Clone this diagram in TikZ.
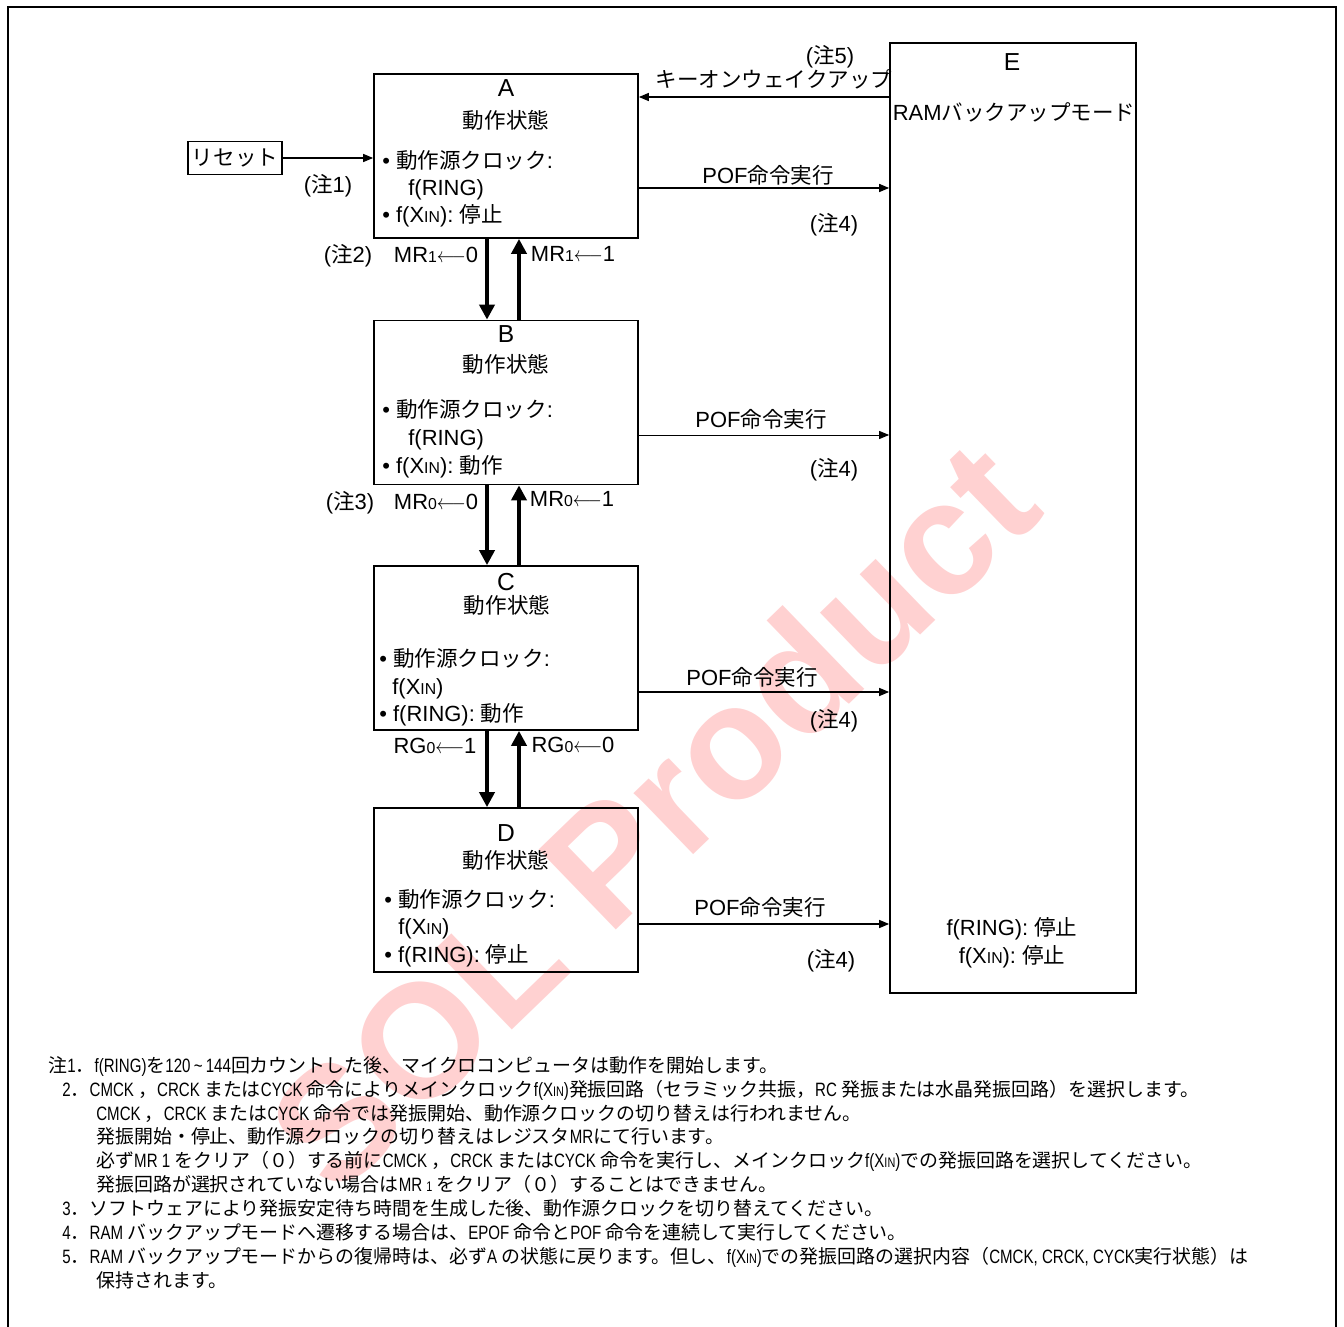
\documentclass[tikz,border=0pt]{standalone}
\usepackage{fontspec}
\setmainfont{Liberation Sans}
\newfontfamily\jp{Noto Sans CJK JP}[Scale=0.98]
\newfontfamily\narrowsans{Liberation Sans}[FakeStretch=0.78]
\usetikzlibrary{arrows.meta,positioning}

% Japanese characters switch to the CJK family by themselves
\XeTeXinterchartokenstate=1
\newXeTeXintercharclass\jpclass
\newcount\cjkc
\cjkc="3000 \loop\ifnum\cjkc<"3100 \XeTeXcharclass\cjkc=\jpclass\advance\cjkc 1 \repeat
\cjkc="4E00 \loop\ifnum\cjkc<"A000 \XeTeXcharclass\cjkc=\jpclass\advance\cjkc 1 \repeat
\cjkc="FF00 \loop\ifnum\cjkc<"FFF0 \XeTeXcharclass\cjkc=\jpclass\advance\cjkc 1 \repeat
\newcommand\latinfont{\rmfamily}
\XeTeXinterchartoks 0 \jpclass={\jp}
\XeTeXinterchartoks 4095 \jpclass={\jp}
\XeTeXinterchartoks \jpclass 0={\latinfont}
\XeTeXinterchartoks 4095 0={\latinfont}

\makeatletter
\newcommand\sm[1]{{\fontsize{\fpeval{0.72*\f@size}}{0}\selectfont #1}}
\makeatother
\newcommand\larr{\scalebox{0.85}[1]{$\longleftarrow$}}
\newcommand\boxfont{\fontsize{12.5}{15}\selectfont}
\newcommand\headfont{\fontsize{14}{16}\selectfont}
\newcommand\notefont{\fontsize{11}{13.6}\selectfont\renewcommand\latinfont{\narrowsans}\narrowsans}

\begin{document}
\begin{tikzpicture}[x=0.02cm,y=-0.02cm,
  statebox/.style={draw,line width=1pt,minimum width=5.28cm,minimum height=3.28cm,inner sep=0pt},
  txt/.style={font=\boxfont,inner sep=0pt,anchor=base west},
  ctxt/.style={font=\boxfont,inner sep=0pt,anchor=base},
  head/.style={font=\headfont,inner sep=0pt,anchor=base},
  pof/.style={-{Triangle[length=0.2cm,width=0.16cm]},line width=0.8pt},
  fat/.style={-{Triangle[length=0.3cm,width=0.3cm]},line width=2.8pt}]
\useasboundingbox (0,0) rectangle (1344,1327);
\draw[line width=1.4pt] (8,1327) -- (8,7) -- (1336,7) -- (1336,1327);
\node[rotate=44,text=red!18,inner sep=0pt,font=\bfseries\fontsize{92}{96}\selectfont] (mark) at (652,815) {SOL Product};

% states
\node[statebox] (A) at (506,156) {};
\node[statebox] (B) at (506,402.5) {};
\node[statebox] (C) at (506,648) {};
\node[statebox] (D) at (506,890) {};
\node[draw,line width=1pt,minimum width=4.92cm,minimum height=19cm,inner sep=0pt] (E) at (1013,518) {};
\node[draw,line width=1pt,minimum width=1.88cm,minimum height=0.66cm,inner sep=0pt,font=\boxfont] (reset) at (235,158) {リセット};

\node[head] (Ah) at (506,97) {A};
\node[ctxt] (At) at (506,129) {動作状態};
\node[txt] (A1) at (382,169) {• 動作源クロック:};
\node[txt] (A2) at (408,196) {f(RING)};
\node[txt] (A3) at (382,223) {• f(X\sm{IN}): 停止};

\node[head] (Bh) at (506,343) {B};
\node[ctxt] (Bt) at (506,373) {動作状態};
\node[txt] (B1) at (382,418) {• 動作源クロック:};
\node[txt] (B2) at (408,445) {f(RING)};
\node[txt] (B3) at (382,473) {• f(X\sm{IN}): 動作};

\node[head] (Ch) at (506,590) {C};
\node[ctxt] (Ct) at (507,613) {動作状態};
\node[txt] (C1) at (379,666) {• 動作源クロック:};
\node[txt] (C2) at (392,694) {f(X\sm{IN})};
\node[txt] (C3) at (379,721) {• f(RING): 動作};

\node[head] (Dh) at (506,841) {D};
\node[ctxt] (Dt) at (506,868) {動作状態};
\node[txt] (D1) at (384,907) {• 動作源クロック:};
\node[txt] (D2) at (398,934) {f(X\sm{IN})};
\node[txt] (D3) at (384,962) {• f(RING): 停止};

\node[head] (Eh) at (1012,71) {E};
\node[ctxt] (Et) at (1014,121) {RAMバックアップモード};
\node[ctxt] (E1) at (1012,935) {f(RING): 停止};
\node[ctxt] (E2) at (1012,963) {f(X\sm{IN}): 停止};

% transitions
\draw[pof] (reset.east) -- (reset.east -| A.west);
\draw[pof] ([yshift=1.18cm]A.east -| E.west) -- ([yshift=1.18cm]A.east);
\draw[pof] ([yshift=-0.64cm]A.east) -- ([yshift=-0.64cm]A.east -| E.west);
\draw[pof,line width=0.5pt] ([yshift=-0.65cm]B.east) -- ([yshift=-0.65cm]B.east -| E.west);
\draw[pof] ([yshift=-0.88cm]C.east) -- ([yshift=-0.88cm]C.east -| E.west);
\draw[pof] ([yshift=-0.68cm]D.east) -- ([yshift=-0.68cm]D.east -| E.west);

\draw[fat] ([xshift=-0.38cm]A.south) -- ([xshift=-0.38cm]B.north);
\draw[fat] ([xshift=0.26cm]B.north) -- ([xshift=0.26cm]A.south);
\draw[fat] ([xshift=-0.38cm]B.south) -- ([xshift=-0.38cm]C.north);
\draw[fat] ([xshift=0.26cm]C.north) -- ([xshift=0.26cm]B.south);
\draw[fat] ([xshift=-0.38cm]C.south) -- ([xshift=-0.38cm]D.north);
\draw[fat] ([xshift=0.26cm]D.north) -- ([xshift=0.26cm]C.south);

% labels
\node[ctxt] (n5) at (830,64) {(注5)};
\node[ctxt] (wake) at (774,88) {キーオンウェイクアップ};
\node[ctxt] (n1) at (328,193) {(注1)};
\node[ctxt] (pA) at (768,184) {POF命令実行};
\node[ctxt] (pB) at (761,427) {POF命令実行};
\node[ctxt] (pC) at (752,685) {POF命令実行};
\node[ctxt] (pD) at (760,915) {POF命令実行};
\node[ctxt] (n4a) at (834,232) {(注4)};
\node[ctxt] (n4b) at (834,476) {(注4)};
\node[ctxt] (n4c) at (834,727) {(注4)};
\node[ctxt] (n4d) at (831,967) {(注4)};
\node[ctxt] (n2) at (348,263) {(注2)};
\node[ctxt] (ab0) at (436,263) {MR\sm{1}\larr 0};
\node[ctxt] (ab1) at (573,262) {MR\sm{1}\larr 1};
\node[ctxt] (n3) at (350,509) {(注3)};
\node[ctxt] (bc0) at (436,509) {MR\sm{0}\larr 0};
\node[ctxt] (bc1) at (572,506) {MR\sm{0}\larr 1};
\node[ctxt] (cd1) at (435,753) {RG\sm{0}\larr 1};
\node[ctxt] (cd0) at (573,752) {RG\sm{0}\larr 0};

% notes
\node[font=\notefont,inner sep=0pt,anchor=north west,align=left] (notes) at (48,1056) {%
注1．f(RING)を120\,\textasciitilde\,144回カウントした後、マイクロコンピュータは動作を開始します。\\
\hspace*{0.28cm}2．CMCK ，CRCK またはCYCK 命令によりメインクロックf(X\sm{IN})発振回路（セラミック共振，RC 発振または水晶発振回路）を選択します。\\
\hspace*{0.96cm}CMCK ，CRCK またはCYCK 命令では発振開始、動作源クロックの切り替えは行われません。\\
\hspace*{0.96cm}発振開始・停止、動作源クロックの切り替えはレジスタMRにて行います。\\
\hspace*{0.96cm}必ずMR 1 をクリア（０）する前にCMCK ，CRCK またはCYCK 命令を実行し、メインクロックf(X\sm{IN})での発振回路を選択してください。\\
\hspace*{0.96cm}発振回路が選択されていない場合はMR \sm{1} をクリア（０）することはできません。\\
\hspace*{0.28cm}3．ソフトウェアにより発振安定待ち時間を生成した後、動作源クロックを切り替えてください。\\
\hspace*{0.28cm}4．RAM バックアップモードへ遷移する場合は、EPOF 命令とPOF 命令を連続して実行してください。\\
\hspace*{0.28cm}5．RAM バックアップモードからの復帰時は、必ずA の状態に戻ります。但し、f(X\sm{IN})での発振回路の選択内容（CMCK, CRCK, CYCK実行状態）は\\
\hspace*{0.96cm}保持されます。};
\end{tikzpicture}
\end{document}
